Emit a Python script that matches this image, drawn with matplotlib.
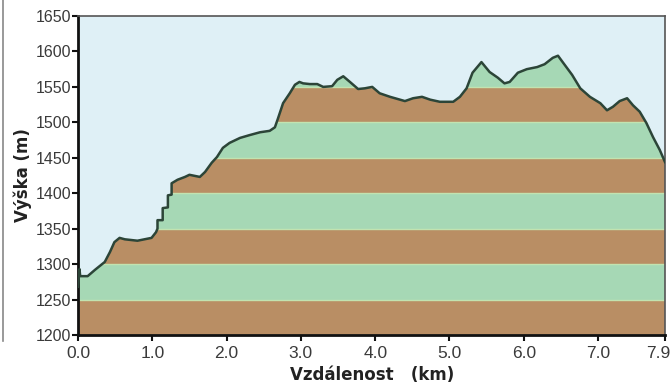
import matplotlib.pyplot as plt
import numpy as np
from matplotlib.transforms import ScaledTranslation

# profile (km, m)
dist = [0.00, 0.02, 0.03, 0.13, 0.23, 0.36, 0.43, 0.49, 0.56, 0.63, 0.80, 0.99,
        1.05, 1.07, 1.07, 1.14, 1.14, 1.21, 1.21, 1.26, 1.26, 1.34, 1.44, 1.50,
        1.64, 1.71, 1.80, 1.87, 1.95, 2.04, 2.18, 2.31, 2.45, 2.58, 2.65, 2.69,
        2.76, 2.85, 2.92, 2.98, 3.03, 3.12, 3.22, 3.30, 3.42, 3.49, 3.57, 3.66,
        3.77, 3.86, 3.96, 4.06, 4.20, 4.30, 4.40, 4.51, 4.63, 4.74, 4.87, 5.05,
        5.14, 5.23, 5.31, 5.43, 5.54, 5.65, 5.74, 5.81, 5.92, 6.04, 6.18, 6.28,
        6.39, 6.46, 6.53, 6.65, 6.76, 6.89, 7.03, 7.12, 7.20, 7.29, 7.39, 7.47,
        7.56, 7.65, 7.74, 7.83, 7.90]
elev = [1268, 1293, 1283, 1283, 1292, 1303, 1317, 1331, 1337, 1335, 1333, 1337,
        1345, 1350, 1362, 1362, 1379, 1380, 1397, 1398, 1414, 1419, 1423, 1426,
        1423, 1430, 1443, 1451, 1464, 1471, 1478, 1482, 1486, 1488, 1493, 1505,
        1527, 1541, 1553, 1557, 1555, 1554, 1554, 1550, 1551, 1560, 1565, 1557,
        1547, 1548, 1550, 1541, 1536, 1533, 1530, 1534, 1536, 1532, 1529, 1529,
        1536, 1548, 1570, 1585, 1571, 1563, 1555, 1557, 1570, 1575, 1578, 1582,
        1591, 1594, 1584, 1567, 1548, 1536, 1527, 1517, 1522, 1530, 1534, 1524,
        1515, 1499, 1479, 1461, 1444]

band_edges = [1200, 1250, 1300, 1350, 1400, 1450, 1500, 1550, 1600, 1650]
band_colors = ['#b98e64', '#a6d8b5']
xticks = [0, 1, 2, 3, 4, 5, 6, 7, 7.9]
xtick_labels = ['0.0', '1.0', '2.0', '3.0', '4.0', '5.0', '6.0', '7.0', '7.9']
yticks = list(range(1200, 1651, 50))

plt.rcParams['font.family'] = ['Liberation Sans', 'DejaVu Sans']

fig = plt.figure(figsize=(6.7, 3.85), dpi=100)
ax = fig.add_axes([0.1164, 0.1299, 0.8761, 0.8285])
ax.set_facecolor('#dff0f6')

x = np.array(dist)
y = np.array(elev)

# area under the profile, used as clip for the coloured bands
area = ax.fill_between(x, 1200, y, color='none', lw=0)
clip = area.get_paths()[0]

for i in range(len(band_edges) - 1):
    lo, hi = band_edges[i], band_edges[i + 1]
    r = ax.axhspan(lo, hi, color=band_colors[i % 2], lw=0, zorder=1)
    r.set_clip_path(clip, ax.transData)
    ln = ax.axhline(lo, color='#c2e3b0', lw=1.0, zorder=1.5)
    ln.set_clip_path(clip, ax.transData)

ax.plot(x, y, color='#2c4538', lw=1.8, zorder=3)

ax.set_xlim(0, 7.9)
ax.set_ylim(1200, 1650)
ax.set_xticks(xticks)
ax.set_xticklabels(xtick_labels)
ax.set_yticks(yticks)
ax.tick_params(axis='both', labelcolor='#3a3a3a', length=4, width=1.5, color='#111')
ax.tick_params(axis='y', labelsize=11.5, pad=1)
ax.tick_params(axis='x', labelsize=12.5, pad=4)

# last label sits a bit left of its tick, like the original
last = ax.get_xticklabels()[-1]
last.set_transform(last.get_transform() + ScaledTranslation(-7 / 100, 0, fig.dpi_scale_trans))

for s in ['left', 'bottom']:
    ax.spines[s].set_linewidth(2)
    ax.spines[s].set_color('#111')
for s in ['top', 'right']:
    ax.spines[s].set_linewidth(1.2)
    ax.spines[s].set_color('#555')

ax.set_ylabel('Výška (m)', fontsize=12, fontweight='bold', color='#222',
              family='DejaVu Sans')
ax.yaxis.set_label_coords(-0.079, 0.5)
fig.text(0.555, 0.003, 'Vzdálenost   (km)', fontsize=12, fontweight='bold', color='#222',
         family='DejaVu Sans', ha='center', va='bottom')

# thin grey edge at the far left
fig.add_artist(plt.Line2D([0.004, 0.004], [0.115, 1.0], color='#888', lw=1.2))

fig.savefig('out.png', dpi=100)
